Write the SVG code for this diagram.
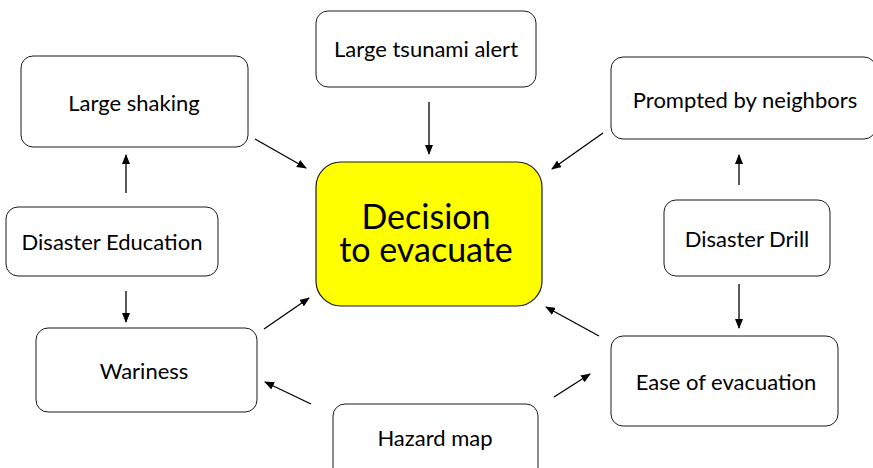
<svg xmlns="http://www.w3.org/2000/svg" width="873" height="468" viewBox="0 0 873 468">
<style>
.box{fill:#ffffff;stroke:#1a1a1a;stroke-width:1}
.main{fill:#ffff00;stroke:#1a1a1a;stroke-width:1.2}
.lbl{font-family:Lato,"Open Sans","Liberation Sans",sans-serif;font-size:22px;fill:#000;text-anchor:middle}
.big{font-family:Lato,"Open Sans","Liberation Sans",sans-serif;font-size:34px;fill:#000;text-anchor:middle}
.c{stroke:#000;stroke-width:1.3;fill:none;marker-end:url(#ah)}
</style>
<defs>
<marker id="ah" markerUnits="userSpaceOnUse" markerWidth="10" markerHeight="8" refX="9" refY="4" orient="auto">
<path d="M0,0 L10,4 L0,8 Z" fill="#000"/>
</marker>
</defs>
<rect width="873" height="468" fill="#fff"/>
<g id="connectors">
<line class="c" x1="126" y1="193" x2="126" y2="155"/>
<line class="c" x1="126" y1="291" x2="126" y2="322"/>
<line class="c" x1="255" y1="139" x2="306" y2="168"/>
<line class="c" x1="429" y1="102" x2="429" y2="154"/>
<line class="c" x1="603" y1="133" x2="552" y2="169"/>
<line class="c" x1="739" y1="185" x2="739" y2="155"/>
<line class="c" x1="739" y1="284" x2="739" y2="328"/>
<line class="c" x1="264" y1="329" x2="309" y2="298"/>
<line class="c" x1="599" y1="336" x2="546" y2="307"/>
<line class="c" x1="311" y1="404" x2="265" y2="382"/>
<line class="c" x1="554" y1="397" x2="590" y2="374"/>
</g>
<g id="decision">
<rect class="main" x="316" y="162" width="226" height="144" rx="25" ry="25"/>
<text class="big" x="426" y="229">Decision</text>
<text class="big" x="426" y="262">to evacuate</text>
</g>
<g id="large-tsunami-alert">
<rect class="box" x="316" y="11" width="220" height="76" rx="12" ry="12"/>
<text class="lbl" x="426" y="57">Large tsunami alert</text>
</g>
<g id="large-shaking">
<rect class="box" x="21" y="56" width="227" height="91" rx="12" ry="12"/>
<text class="lbl" x="134" y="111">Large shaking</text>
</g>
<g id="disaster-education">
<rect class="box" x="6" y="207" width="212" height="69" rx="12" ry="12"/>
<text class="lbl" x="112" y="250">Disaster Education</text>
</g>
<g id="wariness">
<rect class="box" x="36" y="328" width="221" height="84" rx="12" ry="12"/>
<text class="lbl" x="144" y="379">Wariness</text>
</g>
<g id="hazard-map">
<rect class="box" x="333" y="404" width="205" height="80" rx="12" ry="12"/>
<text class="lbl" x="435" y="446">Hazard map</text>
</g>
<g id="ease-of-evacuation">
<rect class="box" x="611" y="336" width="227" height="90" rx="12" ry="12"/>
<text class="lbl" x="726" y="390">Ease of evacuation</text>
</g>
<g id="disaster-drill">
<rect class="box" x="664" y="200" width="166" height="76" rx="12" ry="12"/>
<text class="lbl" x="747" y="247">Disaster Drill</text>
</g>
<g id="prompted-by-neighbors">
<rect class="box" x="611" y="57" width="265" height="82" rx="12" ry="12"/>
<text class="lbl" x="745" y="108">Prompted by neighbors</text>
</g>
</svg>
